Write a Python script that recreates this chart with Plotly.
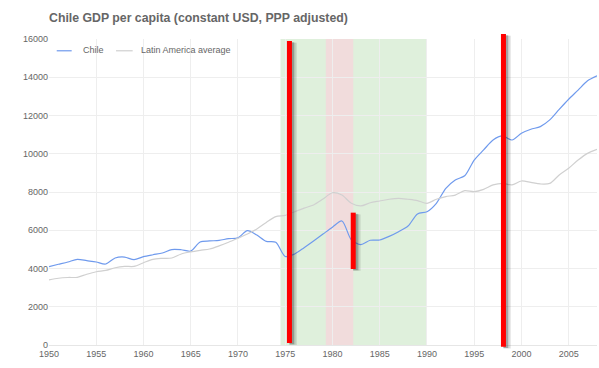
import plotly.graph_objects as go

years = list(range(1950, 2009))
chile = [4100, 4220, 4340, 4480, 4410, 4340, 4235, 4550, 4600, 4460,
         4620, 4720, 4810, 4990, 4980, 4910, 5385, 5440, 5470, 5560,
         5600, 5980, 5750, 5420, 5370, 4630, 4760, 5090, 5440, 5800,
         6160, 6485, 5500, 5245, 5475, 5490, 5680, 5925, 6220, 6850,
         6970, 7410, 8190, 8630, 8850, 9670, 10200, 10720, 10930, 10720,
         11070, 11280, 11420, 11770, 12320, 12850, 13330, 13820, 14080]
latam = [3400, 3490, 3530, 3540, 3700, 3830, 3900, 4040, 4110, 4110,
         4300, 4480, 4530, 4550, 4760, 4870, 4950, 5020, 5180, 5370,
         5580, 5800, 6070, 6410, 6710, 6780, 6970, 7160, 7320, 7630,
         7960, 7840, 7410, 7270, 7440, 7530, 7620, 7670, 7620, 7550,
         7410, 7620, 7760, 7840, 8070, 8020, 8140, 8370, 8450, 8370,
         8575, 8500, 8420, 8450, 8890, 9240, 9670, 10020, 10230]
series_names = ["Chile", "Latin America average"]
series_colors = ["#6f9aed", "#d0d0d0"]

x_ticks = list(range(1950, 2009, 5))
y_ticks = list(range(0, 16001, 2000))
X_RANGE = [1950, 2008]
Y_RANGE = [0, 16000]

# shaded periods
green_period = (1974.5, 1990.0)
pink_period = (1979.3, 1982.2)

# red event markers: year, bottom value, top value
event_years = [1975.45, 1982.2, 1998.1]
event_bottoms = [100, 3975, -90]
event_tops = [15900, 6920, 16260]

fig = go.Figure()
for name, vals, col in zip(series_names, [chile, latam], series_colors):
    fig.add_trace(go.Scatter(x=years, y=vals, name=name, mode="lines", showlegend=False,
                             line=dict(color=col, width=1.2, shape="spline", smoothing=0.8)))

shapes = []
shapes.append(dict(type="rect", xref="x", yref="paper", x0=green_period[0], x1=green_period[1],
                   y0=0, y1=1, fillcolor="#dff0dc", line=dict(width=0), layer="below"))
shapes.append(dict(type="rect", xref="x", yref="paper", x0=pink_period[0], x1=pink_period[1],
                   y0=0, y1=1, fillcolor="#f1dcdc", line=dict(width=0), layer="below"))

def frac(v):
    return (v - Y_RANGE[0]) / (Y_RANGE[1] - Y_RANGE[0])

for yr, b, t in zip(event_years, event_bottoms, event_tops):
    # soft shadow
    for (p0, p1, op, dy) in [(0, 7.5, 0.10, 0.006), (0, 6, 0.15, 0.005), (0, 4.5, 0.25, 0.004)]:
        shapes.append(dict(type="rect", xref="x", yref="y domain", xsizemode="pixel",
                           xanchor=yr, x0=p0, x1=p1, y0=frac(b) - dy, y1=frac(t) - dy,
                           fillcolor=f"rgba(40,40,40,{op})", line=dict(width=0), layer="above"))
    shapes.append(dict(type="rect", xref="x", yref="y domain", xsizemode="pixel",
                       xanchor=yr, x0=-2.5, x1=2.5, y0=frac(b), y1=frac(t),
                       fillcolor="#ff0000", line=dict(width=0), layer="above"))

# legend (drawn manually to get short swatches)
legend_y = 0.9615
legend_items = [(0.0141, 0.0414, 0.0578), (0.1223, 0.1527, 0.1642)]
annotations = []
for (s0, s1, tx), name, col in zip(legend_items, series_names, series_colors):
    shapes.append(dict(type="line", xref="paper", yref="paper", x0=s0, x1=s1,
                       y0=legend_y, y1=legend_y, line=dict(color=col, width=1.2)))
    annotations.append(dict(text=name, xref="paper", yref="paper", x=tx, y=legend_y + 0.002,
                            xanchor="left", yanchor="middle", showarrow=False,
                            font=dict(size=9, color="#666666")))

font_family = "Liberation Sans, Arial, sans-serif"
fig.update_layout(
    width=599, height=368,
    margin=dict(l=49, r=2, t=38.5, b=23),
    paper_bgcolor="white", plot_bgcolor="white",
    font=dict(family=font_family, size=9, color="#666666"),
    title=dict(text="<b>Chile GDP per capita (constant USD, PPP adjusted)</b>",
               x=49/599, xanchor="left", y=1 - 18/368, yanchor="middle",
               font=dict(size=12.3, color="#666666", family=font_family)),
    showlegend=False,
    shapes=shapes,
    annotations=annotations,
    xaxis=dict(range=X_RANGE, tickvals=x_ticks, ticktext=[str(v) for v in x_ticks],
               showgrid=True, gridcolor="#eeeeee", gridwidth=1, zeroline=False,
               showline=True, linecolor="#e6e6e6", ticks="", ticklen=0),
    yaxis=dict(range=Y_RANGE, tickvals=y_ticks, ticktext=[str(v) for v in y_ticks],
               showgrid=True, gridcolor="#eeeeee", gridwidth=1, zeroline=False,
               showline=False, ticks="", ticklen=0),
)
fig.write_html("out.html", config={"displayModeBar": False},
               post_script="document.body.style.margin='0';")
